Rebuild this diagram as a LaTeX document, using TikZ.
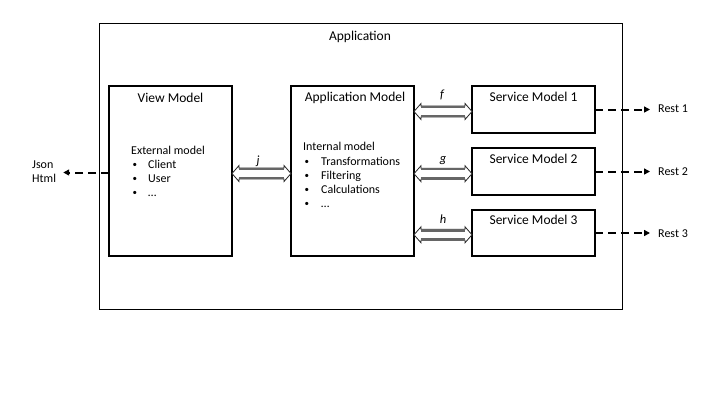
\documentclass[tikz,border=0pt]{standalone}
\usepackage{fontspec}
\setmainfont{Carlito}
\usetikzlibrary{arrows.meta,calc}
\begin{document}
\begin{tikzpicture}[x=1pt,y=-1pt,
 box/.style={draw=black, line width=1.2pt, minimum width=123pt, inner sep=0pt, outer sep=0pt},
 title/.style={font=\fontsize{13.5}{16}\selectfont, anchor=base, inner sep=0pt},
 txt/.style={font=\fontsize{12}{14}\selectfont, anchor=base west, inner sep=0pt},
 bul/.style={font=\fontsize{9}{10}\selectfont, anchor=base west, inner sep=0pt},
 lbl/.style={font=\fontsize{12.5}{15}\selectfont\itshape, anchor=base, inner sep=0pt},
 dasharrow/.style={line width=2pt, dash pattern=on 8pt off 5pt, -{Triangle[length=6pt,width=6pt]}},
 dblout/.style={draw=black!85, fill=white, line width=0.8pt, line join=miter},
 dblgray/.style={draw=gray!80!black, line width=2.6pt}
]
\useasboundingbox (0,0) rectangle (720,405);
% outer application box
\node[draw=black, line width=1pt, minimum width=523pt, minimum height=286pt, inner sep=0pt] (app) at (360.5,166) {};
\node[title] (apptitle) at (360,40.5) {Application};

% boxes
\node[box, minimum height=170pt] (vm) at (170.5,171) {};
\node[box, minimum height=170pt] (am) at (352.5,171) {};
\node[box, minimum height=47pt] (sm1) at (533.5,109.5) {};
\node[box, minimum height=47pt] (sm2) at (533.5,171.5) {};
\node[box, minimum height=46pt] (sm3) at (533.5,233) {};

% titles
\node[title] (vmt) at (170.5,102) {View Model};
\node[title] (amt) at (355,101.5) {Application Model};
\node[title] (sm1t) at (533.5,101.5) {Service Model 1};
\node[title] (sm2t) at (533.5,163.5) {Service Model 2};
\node[title] (sm3t) at (533.5,224.5) {Service Model 3};

% view model content
\node[txt] (vmh) at (131,154.7) {External model};
\node[bul] (vmb1) at (132.5,167.7) {•};
\node[txt] (vmx1) at (148,168.7) {Client};
\node[bul] (vmb2) at (132.5,181.7) {•};
\node[txt] (vmx2) at (148,182.7) {User};
\node[bul] (vmb3) at (132.5,195.7) {•};
\node[txt] (vmx3) at (148,196.7) {…};

% application model content
\node[txt] (amh) at (303,150.7) {Internal model};
\node[bul] (amb1) at (304.5,164) {•};
\node[txt] (amx1) at (321,165) {Transformations};
\node[bul] (amb2) at (304.5,178) {•};
\node[txt] (amx2) at (321,179) {Filtering};
\node[bul] (amb3) at (304.5,192) {•};
\node[txt] (amx3) at (321,193) {Calculations};
\node[bul] (amb4) at (304.5,206) {•};
\node[txt] (amx4) at (321,207) {…};

% external labels
\node[txt, anchor=west] (rest1) at (658,109) {Rest 1};
\node[txt, anchor=west] (rest2) at (658,172) {Rest 2};
\node[txt, anchor=west] (rest3) at (658,234) {Rest 3};
\node[font=\fontsize{12}{13.5}\selectfont, align=left, inner sep=0pt, anchor=west] (jh) at (32,171.5) {Json\\Html};

% dashed arrows
\draw[dasharrow, shorten >=8pt] (sm1.east) -- (sm1.east -| rest1.west);
\draw[dasharrow, shorten >=8pt] (sm2.east) -- (sm2.east -| rest2.west);
\draw[dasharrow, shorten >=8pt] (sm3.east) -- (sm3.east -| rest3.west);
\coordinate (jy) at ($(vm.west)+(0,1.5)$);
\draw[dasharrow, shorten >=7pt] (jy) -- (jy -| jh.east);

% double arrows
\coordinate (jr) at ($(am.west)+(0,2.5)$);
\coordinate (fr) at ($(sm1.west)+(0,2)$);
\coordinate (gr) at ($(sm2.west)+(0,2.2)$);
\coordinate (hr) at ($(sm3.west)+(0,1.8)$);
\foreach \p/\a in {jr/vm, fr/am, gr/am, hr/am}{
  \coordinate (A) at (\p -| \a.east);
  \coordinate (B) at (\p);
  \draw[dblout] (A) -- ++(7,-8) -- ++(0,2.5) -- ($(B)+(-7,-5.5)$) -- ++(0,-2.5) -- (B)
     -- ++(-7,8) -- ++(0,-2.5) -- ($(A)+(7,5.5)$) -- ++(0,2.5) -- cycle;
  \draw[dblgray] ($(A)+(6.6,-4.6)$) -- ($(B)+(-6.6,-4.6)$);
  \draw[dblgray] ($(A)+(6.6,4.6)$) -- ($(B)+(-6.6,4.6)$);
}

% arrow labels
\node[lbl] (jl) at (258,164.5) {j};
\node[lbl] (fl) at (442,98) {f};
\node[lbl] (gl) at (443,162.5) {g};
\node[lbl] (hl) at (443,223.3) {h};
\end{tikzpicture}
\end{document}
